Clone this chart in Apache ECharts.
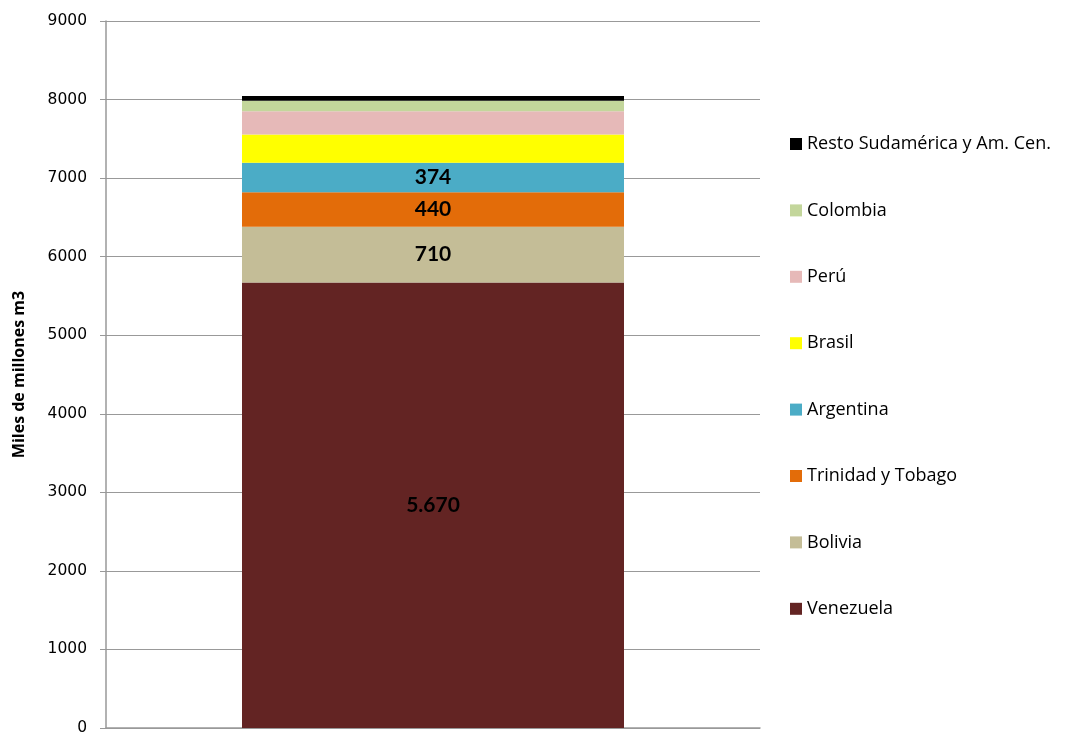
<!DOCTYPE html>
<html><head><meta charset="utf-8">
<script src="https://cdn.jsdelivr.net/npm/echarts@6/dist/echarts.min.js"></script>
<style>html,body{margin:0;padding:0;background:#fff}#c{width:1074px;height:733px}</style>
</head><body><div id="c"></div>
<script>
const categories = ['2008'];
const seriesNames = ['Venezuela','Bolivia','Trinidad y Tobago','Argentina','Brasil','Perú','Colombia','Resto Sudamérica y Am. Cen.'];
const seriesValues = [5670, 710, 440, 374, 362, 295, 134, 59];
const seriesColors = ['#632423','#c4bd97','#e36c09','#4bacc6','#ffff00','#e6b9b8','#c3d69b','#000000'];
const labelShown = [true, true, true, true, false, false, false, false];
const yTicks = {min: 0, max: 9000, interval: 1000};
const yName = 'Miles de millones m3';

const font = '"Open Sans", Lato, sans-serif';
const fmt = v => String(v).replace(/\B(?=(\d{3})+(?!\d))/g, '.');

const series = seriesNames.map((n, i) => ({
  name: n, type: 'bar', stack: 'total', barWidth: 382,
  data: [seriesValues[i]],
  itemStyle: {color: seriesColors[i]},
  label: {show: labelShown[i], position: 'inside', formatter: p => fmt(p.value),
    color: '#000', fontWeight: 'bold', fontSize: 21, fontFamily: 'Lato, sans-serif'},
  emphasis: {disabled: true}
}));

const chart = echarts.init(document.getElementById('c'), null, {renderer: 'canvas'});
chart.setOption({
  animation: false,
  grid: {left: 106, right: 314, top: 21, bottom: 5, containLabel: false, outerBoundsMode: 'none'},
  legend: {
    orient: 'vertical', left: 790, top: 134, padding: 0,
    data: seriesNames.slice().reverse(),
    itemWidth: 12, itemHeight: 12, itemGap: 46.4, icon: 'rect',
    textStyle: {fontSize: 18, fontFamily: font, color: '#000', lineHeight: 20},
    selectedMode: false
  },
  xAxis: {
    type: 'category', data: categories,
    axisLine: {lineStyle: {color: '#999', width: 1.5}},
    axisTick: {show: false}, axisLabel: {show: false}
  },
  yAxis: {
    type: 'value', min: yTicks.min, max: yTicks.max, interval: yTicks.interval,
    name: yName, nameLocation: 'middle', nameGap: 79, nameRotate: 90,
    nameTextStyle: {fontSize: 16, fontWeight: 'bold', fontFamily: font, color: '#000'},
    axisLine: {show: true, lineStyle: {color: '#999', width: 1.5}},
    axisTick: {show: true, length: 6, lineStyle: {color: '#999'}},
    axisLabel: {fontSize: 15.5, fontFamily: '"DejaVu Sans", sans-serif', color: '#000', margin: 19,
      formatter: v => String(v)},
    splitLine: {lineStyle: {color: '#999', width: 1}}
  },
  series: series
});
</script></body></html>
